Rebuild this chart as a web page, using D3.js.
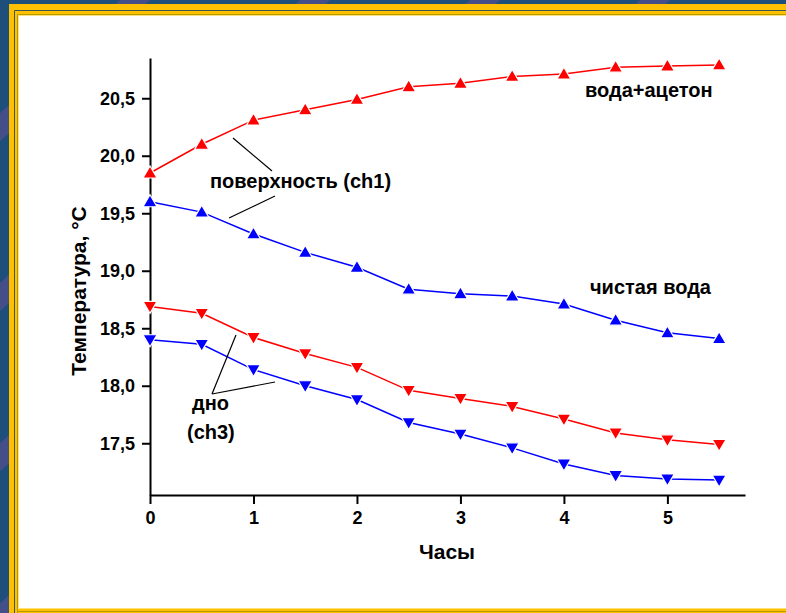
<!DOCTYPE html>
<html><head><meta charset="utf-8">
<script src="https://cdn.jsdelivr.net/npm/d3@7"></script>
<style>html,body{margin:0;padding:0;background:#fff;overflow:hidden}svg{display:block}</style>
</head><body>
<svg id="c" width="786" height="613"></svg>
<script>
const hours = [0,0.5,1,1.5,2,2.5,3,3.5,4,4.5,5,5.5];
const acetoneSurface = [19.85,20.10,20.31,20.40,20.49,20.60,20.63,20.69,20.71,20.77,20.78,20.79];
const waterSurface   = [19.60,19.51,19.32,19.16,19.03,18.84,18.80,18.78,18.71,18.57,18.46,18.41];
const acetoneBottom  = [18.69,18.63,18.42,18.28,18.16,17.96,17.89,17.82,17.71,17.59,17.53,17.49];
const waterBottom    = [18.40,18.36,18.14,18.00,17.88,17.68,17.58,17.46,17.32,17.22,17.19,17.18];
const xMajorTicks = [0,1,2,3,4,5];
const xMinorTicks = [0.5,1.5,2.5,3.5,4.5,5.5];
const yMajorTicks = [17.5,18.0,18.5,19.0,19.5,20.0,20.5];
const yMinorTicks = [17.25,17.75,18.25,18.75,19.25,19.75,20.25,20.75];
const xTitle = "Часы";
const yTitle = "Температура, °С";

const svg = d3.select("#c");
const W = 786, H = 613;
const FONT = "Arial, 'Liberation Sans', sans-serif";

// ---- decorative frame ----
svg.append("rect").attr("width",W).attr("height",H).attr("fill","#1d4f7a");
const stripes = svg.append("g").attr("fill","#4b4f8c").attr("opacity",0.85);
[-40,120,300,470,640,800].forEach(s=>{
  stripes.append("polygon").attr("points",`${s},0 ${s+30},0 ${s-620},${H} ${s-650},${H}`);
});
svg.append("rect").attr("x",9).attr("y",4).attr("width",W-9).attr("height",H-4).attr("fill","#ffc000");
svg.append("path").attr("d",`M${W},10.5 H14.5 V${H}`).attr("fill","none").attr("stroke","#3a5a5a").attr("stroke-width",1);
svg.append("path").attr("d",`M${W},14.5 H17.5 V${H}`).attr("fill","none").attr("stroke","#b89a00").attr("stroke-width",1);
svg.append("rect").attr("x",18).attr("y",15).attr("width",W-18).attr("height",594).attr("fill","#ffe27a");
svg.append("rect").attr("x",19).attr("y",16).attr("width",W-19).attr("height",592).attr("fill","#fff");
svg.append("line").attr("x1",18).attr("x2",W).attr("y1",611.5).attr("y2",611.5).attr("stroke","#b89a00").attr("stroke-width",1);

// ---- scales ----
const x = d3.scaleLinear().domain([0,5.75]).range([150,745]);
const y = d3.scaleLinear().domain([17.05,20.85]).range([495,58]);
const fmt = d => d3.format(".1f")(d).replace(".",",");

// ---- axes ----
const gx = svg.append("g").attr("transform","translate(0,495)");
gx.call(d3.axisBottom(x).tickValues(xMinorTicks).tickSize(4).tickSizeOuter(0).tickFormat(""));
gx.call(d3.axisBottom(x).tickValues(xMajorTicks).tickSize(9).tickSizeOuter(0).tickPadding(7).tickFormat(d3.format("d")));
const gy = svg.append("g").attr("transform","translate(150,0)");
gy.call(d3.axisLeft(y).tickValues(yMinorTicks).tickSize(4).tickSizeOuter(0).tickFormat(""));
gy.call(d3.axisLeft(y).tickValues(yMajorTicks).tickSize(8).tickSizeOuter(0).tickPadding(7).tickFormat(fmt));
svg.selectAll(".domain").attr("stroke","#000").attr("stroke-width",2);
svg.selectAll(".tick line").attr("stroke","#000").attr("stroke-width",2);
svg.selectAll(".tick text").attr("font-family",FONT).attr("font-size",18).attr("font-weight","bold").attr("fill","#000");

// axis titles
svg.append("text").attr("x",447).attr("y",559).attr("text-anchor","middle")
  .attr("font-family",FONT).attr("font-size",21).attr("font-weight","bold").text(xTitle);
svg.append("text").attr("transform","translate(86,291) rotate(-90)").attr("text-anchor","middle")
  .attr("font-family",FONT).attr("font-size",21).attr("font-weight","bold").text(yTitle);

// ---- series ----
const series = [
  {vals: acetoneSurface, color:"#ff0000", up:true},
  {vals: waterSurface,   color:"#0000ff", up:true},
  {vals: acetoneBottom,  color:"#ff0000", up:false},
  {vals: waterBottom,    color:"#0000ff", up:false}
];
const line = d3.line().x(d=>x(d[0])).y(d=>y(d[1]));
const upTri = "M0,-7 L7,5 L-7,5 Z";
const dnTri = "M0,7 L7,-5 L-7,-5 Z";
series.forEach(s=>{
  const pts = hours.map((h,i)=>[h,s.vals[i]]);
  svg.append("path").datum(pts).attr("d",line).attr("fill","none").attr("stroke",s.color).attr("stroke-width",1.5);
  svg.append("g").selectAll("path").data(pts).join("path")
    .attr("transform",d=>`translate(${x(d[0])},${y(d[1])})`)
    .attr("d",s.up?upTri:dnTri).attr("fill",s.color).attr("stroke","#fff").attr("stroke-width",1.2);
});

// ---- annotations ----
const ann = svg.append("g").attr("font-family",FONT).attr("font-size",20).attr("font-weight","bold").attr("fill","#000");
ann.append("text").attr("x",585).attr("y",97).text("вода+ацетон");
ann.append("text").attr("x",590).attr("y",294).text("чистая вода");
ann.append("text").attr("x",210).attr("y",188).text("поверхность (ch1)");
ann.append("text").attr("x",192).attr("y",410).text("дно");
ann.append("text").attr("x",187).attr("y",439).text("(ch3)");
const lines = [[233,138,272,171],[275,196,229,218],[236,335,212,394],[212,394,275,382]];
svg.append("g").selectAll("line").data(lines).join("line")
  .attr("x1",d=>d[0]).attr("y1",d=>d[1]).attr("x2",d=>d[2]).attr("y2",d=>d[3])
  .attr("stroke","#000").attr("stroke-width",1.2);
</script>
</body></html>
